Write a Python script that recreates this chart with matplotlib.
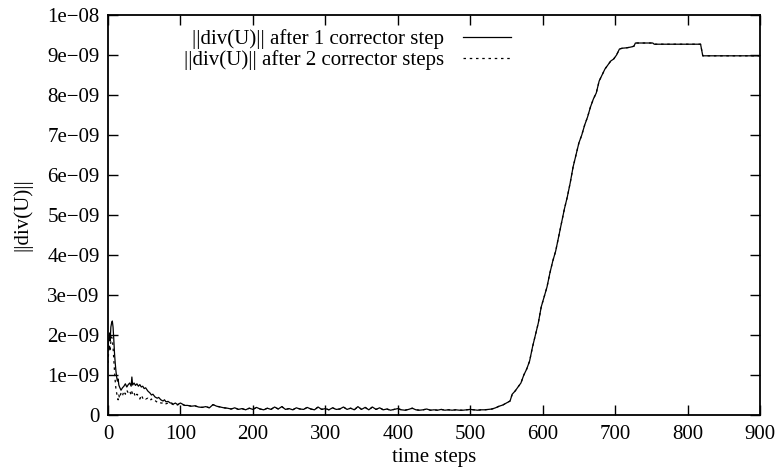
#!/usr/bin/env python3
"""Divergence norm over time steps, gnuplot-like look."""

import matplotlib
matplotlib.use('Agg')
import matplotlib.pyplot as plt
from matplotlib.ticker import FuncFormatter

# values, in units of 1e-9
steps_early = [0, 1, 2, 3, 4, 5, 6, 7, 8, 9, 10, 11, 12, 13, 14, 15, 16,
               18, 20, 22, 24, 26, 28, 30, 32, 33,
               34, 36, 38, 40, 42, 44, 46, 48, 50, 52,
               55, 58, 60, 62, 65, 68, 70, 73, 76, 78, 80, 83, 86, 88, 90,
               93, 96, 98, 100, 103, 106]
div1_early = [1.6, 1.9, 2.05, 1.85, 2.2, 2.3, 2.35, 2.2, 1.9, 1.55, 1.3, 1.1,
              0.95, 0.85, 0.9, 0.75, 0.7,
              0.62, 0.68, 0.72, 0.78, 0.7, 0.76, 0.8, 0.72, 0.95,
              0.75, 0.8, 0.74, 0.78, 0.72, 0.76, 0.7, 0.72, 0.66, 0.68,
              0.6, 0.55, 0.5, 0.52, 0.45, 0.42, 0.44, 0.38, 0.35, 0.38, 0.33,
              0.34, 0.3, 0.3, 0.27, 0.3, 0.26, 0.28, 0.3, 0.27, 0.24]
div2_early = [1.3, 1.6, 1.75, 1.6, 1.85, 1.95, 1.9, 1.7, 1.4, 1.1, 0.85, 0.65,
              0.55, 0.45, 0.38, 0.5, 0.42,
              0.55, 0.48, 0.6, 0.52, 0.62, 0.55, 0.6, 0.5, 0.58,
              0.5, 0.55, 0.45, 0.52, 0.48, 0.4, 0.5, 0.42, 0.45, 0.4,
              0.42, 0.36, 0.4, 0.35, 0.36, 0.32, 0.34, 0.3, 0.3, 0.32, 0.28,
              0.3, 0.27, 0.28, 0.26, 0.28, 0.25, 0.27, 0.28, 0.26, 0.24]

steps_mid = list(range(110, 530, 5))
div_mid = [0.24, 0.22, 0.23, 0.2, 0.19, 0.21, 0.18, 0.26, 0.22, 0.2,
           0.18, 0.17, 0.15, 0.18, 0.14, 0.16, 0.13, 0.17, 0.14, 0.19,
           0.15, 0.13, 0.17, 0.14, 0.2, 0.15, 0.21, 0.14, 0.16, 0.13,
           0.18, 0.15, 0.14, 0.19, 0.15, 0.13, 0.2, 0.14, 0.16, 0.13,
           0.18, 0.14, 0.15, 0.2, 0.14, 0.17, 0.13, 0.21, 0.14, 0.19,
           0.13, 0.2, 0.14, 0.18, 0.13, 0.15, 0.12, 0.14, 0.16, 0.13,
           0.12, 0.14, 0.17, 0.13, 0.12, 0.13, 0.15, 0.12, 0.13, 0.12,
           0.14, 0.12, 0.13, 0.12, 0.13, 0.12, 0.12, 0.13, 0.14, 0.13,
           0.12, 0.13, 0.13, 0.14]

steps_late = [530, 535, 540, 545, 550, 555, 558, 562, 566, 570, 574, 578,
              582, 586, 590, 594, 598, 602, 606, 610, 614, 618, 622, 626,
              630, 634, 638, 642, 646, 650, 654, 658, 662, 666, 670, 674,
              678, 682, 686, 690, 694, 698, 702, 706, 710, 716, 722, 726,
              728, 740, 752, 754, 780, 800, 818, 821, 850, 880, 900]
div_late = [0.15, 0.18, 0.22, 0.25, 0.3, 0.35, 0.52, 0.6, 0.7, 0.8, 1.0, 1.15,
            1.35, 1.7, 2.0, 2.3, 2.7, 2.95, 3.2, 3.55, 3.85, 4.1, 4.45, 4.8,
            5.15, 5.45, 5.8, 6.2, 6.5, 6.8, 7.0, 7.25, 7.45, 7.7, 7.9, 8.05,
            8.35, 8.5, 8.65, 8.75, 8.85, 8.9, 9.0, 9.15, 9.17, 9.18, 9.2, 9.22,
            9.3, 9.3, 9.3, 9.27, 9.27, 9.27, 9.27, 8.98, 8.98, 8.98, 8.98]

labels = ['||div(U)|| after 1 corrector step',
          '||div(U)|| after 2 corrector steps']

plt.rcParams['font.family'] = ['Liberation Serif', 'DejaVu Serif']
plt.rcParams['font.size'] = 15

steps = steps_early + steps_mid + steps_late
div1 = [v * 1e-9 for v in div1_early + div_mid + div_late]
div2 = [v * 1e-9 for v in div2_early + div_mid + div_late]

fig = plt.figure(figsize=(7.79, 4.75), dpi=100)
ax = fig.add_axes([0.1386, 0.1263, 0.8370, 0.8421])

ax.plot(steps, div1, '-', color='black', linewidth=0.9, label=labels[0])
ax.plot(steps, div2, color='black', linewidth=0.9, linestyle=(0, (2, 3)),
        label=labels[1])

ax.set_xlim(0, 900)
ax.set_ylim(0, 1e-8)
ax.set_xticks(range(0, 1000, 100))
ax.set_yticks([i * 1e-9 for i in range(11)])


def fmt_y(v, pos):
    if abs(v) < 1e-15:
        return '0'
    return ('%.0e' % v).replace('-', '\u2212')


ax.yaxis.set_major_formatter(FuncFormatter(fmt_y))
ax.tick_params(direction='in', length=7, width=1, top=True, right=True)
ax.tick_params(axis='x', pad=7)
ax.tick_params(axis='y', pad=6)
for s in ax.spines.values():
    s.set_linewidth(1.3)

ax.set_xlabel('time steps', labelpad=3)
ax.set_ylabel('||div(U)||', labelpad=11)

ax.legend(loc='upper right', bbox_to_anchor=(0.64, 1.0), frameon=False,
          markerfirst=False, handlelength=2.3, handletextpad=0.9,
          labelspacing=0.05, borderpad=0.2)

fig.savefig('out.png', dpi=100)
